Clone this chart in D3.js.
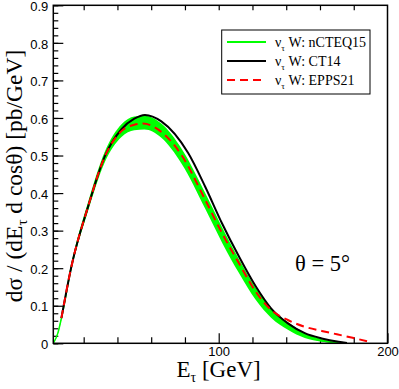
<!DOCTYPE html>
<html>
<head>
<meta charset="utf-8">
<script src="https://cdn.jsdelivr.net/npm/d3@7"></script>
<style>
  body { margin: 0; background: #fff; }
  svg { display: block; font-family: "Liberation Serif", "DejaVu Serif", serif; }
  .tick text { font-size: 13px; fill: #000; }
  .tick line { stroke: #000; stroke-width: 1.2; }
</style>
</head>
<body>
<svg width="399" height="389"></svg>
<script>
// ------------------- DATA -------------------
// nCTEQ15 (central line + error band)
var ncteqE   = [2, 4.7, 6.8, 12.7, 22.6, 32.5, 42.4, 50, 56, 66, 78, 92, 102, 112, 122, 131, 141, 151, 161, 171];
var ncteqMid = [0, 0.027, 0.067, 0.204, 0.364, 0.497, 0.566, 0.585, 0.587, 0.565, 0.498, 0.378, 0.288, 0.205, 0.130, 0.080, 0.045, 0.020, 0.007, 0.001];
var ncteqLo  = [0, 0.025, 0.062, 0.196, 0.352, 0.482, 0.549, 0.567, 0.569, 0.547, 0.478, 0.358, 0.268, 0.187, 0.115, 0.068, 0.036, 0.014, 0.004, 0.000];
var ncteqHi  = [0, 0.029, 0.072, 0.212, 0.376, 0.510, 0.583, 0.604, 0.606, 0.585, 0.518, 0.400, 0.309, 0.224, 0.147, 0.094, 0.056, 0.028, 0.011, 0.003];

// CT14
var ct14E     = [6.8, 12.7, 22.6, 32.5, 42.4, 50, 56.3, 66, 82, 92, 102, 112, 122, 131, 141, 151, 161, 171, 176];
var ct14Sigma = [0.067, 0.204, 0.364, 0.498, 0.570, 0.598, 0.608, 0.591, 0.506, 0.417, 0.319, 0.231, 0.151, 0.093, 0.053, 0.027, 0.013, 0.004, 0.001];

// EPPS21
var eppsE     = [6.8, 12.7, 22.6, 32.5, 42.4, 50, 55, 66, 78, 92, 102, 112, 122, 131, 141, 151, 161, 170, 180, 190];
var eppsSigma = [0.067, 0.204, 0.364, 0.497, 0.565, 0.582, 0.585, 0.563, 0.501, 0.382, 0.293, 0.213, 0.137, 0.089, 0.062, 0.044, 0.033, 0.024, 0.014, 0.003];

// ticks
var xMajor = [100, 200];
var xMinor = [20, 40, 60, 80, 120, 140, 160, 180];
var yMajor = [0, 0.1, 0.2, 0.3, 0.4, 0.5, 0.6, 0.7, 0.8, 0.9];
var yMinor = d3.range(0, 0.9001, 0.02);

var legendNames  = ["nCTEQ15", "CT14", "EPPS21"];
var legendColors = ["#00ff00", "#000000", "#ff0000"];
var legendDash   = [null, null, "8,5"];
// ------------------- END DATA -------------------

var svg = d3.select("svg");

// plot frame (pixel edges)
var plotL = 53.3, plotR = 387.5, plotT = 5.3, plotB = 343.3;

var x = d3.scaleLinear().domain([2, 200]).range([plotL, plotR]);
var y = d3.scaleLinear().domain([0, 0.9]).range([plotB, plotT]);

svg.append("clipPath").attr("id", "clip")
  .append("rect")
  .attr("x", plotL).attr("y", plotT)
  .attr("width", plotR - plotL).attr("height", plotB - plotT);

// ---- axes (ticks point inward) ----
svg.append("g")
  .attr("transform", "translate(0," + plotB + ")")
  .call(d3.axisBottom(x).tickValues(xMinor).tickSizeInner(-6).tickSizeOuter(0).tickFormat(""))
  .call(g => g.select(".domain").remove());
svg.append("g")
  .attr("transform", "translate(0," + plotB + ")")
  .call(d3.axisBottom(x).tickValues(xMajor).tickSizeInner(-10).tickSizeOuter(0).tickPadding(3).tickFormat(d3.format("d")))
  .call(g => g.select(".domain").remove());

// top axis: ticks only
svg.append("g")
  .attr("transform", "translate(0," + plotT + ")")
  .call(d3.axisTop(x).tickValues(xMinor.concat([100])).tickSizeInner(-5).tickSizeOuter(0).tickFormat(""))
  .call(g => g.select(".domain").remove());

svg.append("g")
  .attr("transform", "translate(" + plotL + ",0)")
  .call(d3.axisLeft(y).tickValues(yMinor).tickSizeInner(-5).tickSizeOuter(0).tickFormat(""))
  .call(g => g.select(".domain").remove());
svg.append("g")
  .attr("transform", "translate(" + plotL + ",0)")
  .call(d3.axisLeft(y).tickValues(yMajor).tickSizeInner(-10).tickSizeOuter(0).tickPadding(5).tickFormat(d3.format("")))
  .call(g => g.select(".domain").remove())
  .call(g => g.selectAll(".tick text").attr("dy", "0.4em"));

// ---- curves ----
function toPts(xs, ys) {
  return xs.map(function(d, i) { return [d, ys[i]]; });
}

var plot = svg.append("g").attr("clip-path", "url(#clip)");

var band = ncteqE.map(function(d, i) { return { e: d, lo: ncteqLo[i], hi: ncteqHi[i] }; });

plot.append("path")
  .datum(band)
  .attr("fill", "#00ff00")
  .attr("d", d3.area()
    .x(function(d) { return x(d.e); })
    .y0(function(d) { return y(d.lo); })
    .y1(function(d) { return y(d.hi); })
    .curve(d3.curveMonotoneX));

var line = d3.line()
  .x(function(d) { return x(d[0]); })
  .y(function(d) { return y(d[1]); })
  .curve(d3.curveMonotoneX);

plot.append("path")
  .datum(toPts(ncteqE, ncteqMid))
  .attr("fill", "none").attr("stroke", "#00ff00").attr("stroke-width", 1.5)
  .attr("d", line);

plot.append("path")
  .datum(toPts(ct14E, ct14Sigma))
  .attr("fill", "none").attr("stroke", "#000").attr("stroke-width", 2)
  .attr("d", line);

plot.append("path")
  .datum(toPts(eppsE, eppsSigma))
  .attr("fill", "none").attr("stroke", "#ff0000").attr("stroke-width", 2)
  .attr("stroke-dasharray", "8,5")
  .attr("d", line);

// frame
svg.append("rect")
  .attr("x", plotL).attr("y", plotT)
  .attr("width", plotR - plotL).attr("height", plotB - plotT)
  .attr("fill", "none").attr("stroke", "#000").attr("stroke-width", 1.5);

// ---- legend ----
var legend = svg.append("g");
legend.append("rect")
  .attr("x", 221.7).attr("y", 30).attr("width", 148.3).attr("height", 64)
  .attr("fill", "#fff").attr("stroke", "#000").attr("stroke-width", 1);

legendNames.forEach(function(name, i) {
  var ry = 42 + i * 19;
  legend.append("line")
    .attr("x1", 227).attr("x2", 266).attr("y1", ry).attr("y2", ry)
    .attr("stroke", legendColors[i]).attr("stroke-width", 2)
    .attr("stroke-dasharray", legendDash[i]);
  var t = legend.append("text")
    .attr("x", 275).attr("y", ry + 4.5)
    .style("font-size", "14px");
  t.append("tspan").text("\u03bd");
  t.append("tspan").attr("dy", 4).style("font-size", "9px").text("\u03c4");
  t.append("tspan").attr("dy", -4).text(" W: " + name);
});

// ---- labels ----
var xl = svg.append("text")
  .attr("x", 176.5).attr("y", 377)
  .style("font-size", "23px");
xl.append("tspan").text("E");
xl.append("tspan").attr("dy", 5).style("font-size", "14px").text("\u03c4");
xl.append("tspan").attr("dy", -5).text(" [GeV]");

var yl = svg.append("text")
  .attr("transform", "translate(21.5,176) rotate(-90)")
  .attr("text-anchor", "middle")
  .style("font-size", "23.5px");
yl.append("tspan").text("d\u03c3 / (dE");
yl.append("tspan").attr("dy", 5).style("font-size", "15px").text("\u03c4");
yl.append("tspan").attr("dy", -5).text(" d cos\u03b8) [pb/GeV]");

svg.append("text")
  .attr("x", 295).attr("y", 270.5)
  .style("font-size", "22.5px")
  .text("\u03b8 = 5\u00b0");
</script>
</body>
</html>
